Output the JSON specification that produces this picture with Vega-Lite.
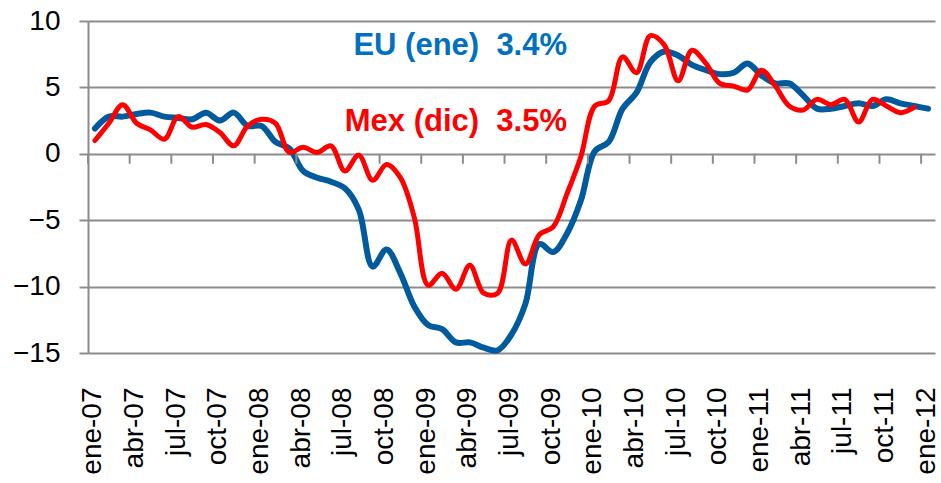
{
  "$schema": "https://vega.github.io/schema/vega-lite/v6.json",
  "width": 847,
  "height": 332,
  "autosize": {"type": "none"},
  "padding": {"left": 88, "top": 21, "right": 6, "bottom": 130},
  "config": {"view": {"stroke": null}, "font": "Liberation Sans", "background": "white"},
  "data": {
    "values": [
      {"mes": "ene-07", "EU": 1.9, "Mex": 1.0},
      {"mes": "feb-07", "EU": 2.8, "Mex": 2.3},
      {"mes": "mar-07", "EU": 2.8, "Mex": 3.7},
      {"mes": "abr-07", "EU": 3.0, "Mex": 2.3},
      {"mes": "may-07", "EU": 3.1, "Mex": 1.8},
      {"mes": "jun-07", "EU": 2.8, "Mex": 1.1},
      {"mes": "jul-07", "EU": 2.7, "Mex": 2.8},
      {"mes": "ago-07", "EU": 2.6, "Mex": 2.0},
      {"mes": "sep-07", "EU": 3.1, "Mex": 2.2},
      {"mes": "oct-07", "EU": 2.5, "Mex": 1.6},
      {"mes": "nov-07", "EU": 3.1, "Mex": 0.6},
      {"mes": "dic-07", "EU": 2.1, "Mex": 2.1},
      {"mes": "ene-08", "EU": 2.1, "Mex": 2.6},
      {"mes": "feb-08", "EU": 0.9, "Mex": 2.3},
      {"mes": "mar-08", "EU": 0.4, "Mex": 0.1},
      {"mes": "abr-08", "EU": -1.3, "Mex": 0.5},
      {"mes": "may-08", "EU": -1.8, "Mex": 0.1},
      {"mes": "jun-08", "EU": -2.1, "Mex": 0.6},
      {"mes": "jul-08", "EU": -2.6, "Mex": -1.3},
      {"mes": "ago-08", "EU": -4.2, "Mex": -0.1},
      {"mes": "sep-08", "EU": -8.5, "Mex": -2.0},
      {"mes": "oct-08", "EU": -7.2, "Mex": -0.8},
      {"mes": "nov-08", "EU": -9.0, "Mex": -1.8},
      {"mes": "dic-08", "EU": -11.5, "Mex": -4.8},
      {"mes": "ene-09", "EU": -12.9, "Mex": -9.9},
      {"mes": "feb-09", "EU": -13.2, "Mex": -9.0},
      {"mes": "mar-09", "EU": -14.2, "Mex": -10.2},
      {"mes": "abr-09", "EU": -14.2, "Mex": -8.4},
      {"mes": "may-09", "EU": -14.6, "Mex": -10.5},
      {"mes": "jun-09", "EU": -14.8, "Mex": -10.5},
      {"mes": "jul-09", "EU": -13.6, "Mex": -6.5},
      {"mes": "ago-09", "EU": -11.3, "Mex": -8.3},
      {"mes": "sep-09", "EU": -6.8, "Mex": -6.1},
      {"mes": "oct-09", "EU": -7.4, "Mex": -5.5},
      {"mes": "nov-09", "EU": -6.0, "Mex": -3.0},
      {"mes": "dic-09", "EU": -3.5, "Mex": -0.2},
      {"mes": "ene-10", "EU": 0.2, "Mex": 3.6},
      {"mes": "feb-10", "EU": 0.9, "Mex": 4.0},
      {"mes": "mar-10", "EU": 3.4, "Mex": 7.3},
      {"mes": "abr-10", "EU": 4.6, "Mex": 6.1},
      {"mes": "may-10", "EU": 6.9, "Mex": 8.9},
      {"mes": "jun-10", "EU": 7.7, "Mex": 8.2},
      {"mes": "jul-10", "EU": 7.4, "Mex": 5.5},
      {"mes": "ago-10", "EU": 6.7, "Mex": 7.8},
      {"mes": "sep-10", "EU": 6.3, "Mex": 6.8},
      {"mes": "oct-10", "EU": 6.0, "Mex": 5.3},
      {"mes": "nov-10", "EU": 6.1, "Mex": 5.1},
      {"mes": "dic-10", "EU": 6.8, "Mex": 4.8},
      {"mes": "ene-11", "EU": 5.9, "Mex": 6.3},
      {"mes": "feb-11", "EU": 5.3, "Mex": 5.1},
      {"mes": "mar-11", "EU": 5.3, "Mex": 3.6},
      {"mes": "abr-11", "EU": 4.4, "Mex": 3.3},
      {"mes": "may-11", "EU": 3.4, "Mex": 4.1},
      {"mes": "jun-11", "EU": 3.4, "Mex": 3.7},
      {"mes": "jul-11", "EU": 3.6, "Mex": 4.1},
      {"mes": "ago-11", "EU": 3.8, "Mex": 2.4},
      {"mes": "sep-11", "EU": 3.6, "Mex": 4.1},
      {"mes": "oct-11", "EU": 4.1, "Mex": 3.6},
      {"mes": "nov-11", "EU": 3.8, "Mex": 3.1},
      {"mes": "dic-11", "EU": 3.6, "Mex": 3.5},
      {"mes": "ene-12", "EU": 3.4, "Mex": null}
    ]
  },
  "resolve": {"axis": {"x": "independent"}, "scale": {"x": "shared", "y": "shared"}},
  "layer": [
    {
      "mark": {"type": "line", "color": "#005a9e", "strokeWidth": 6, "interpolate": "catmull-rom", "strokeCap": "round", "strokeJoin": "round"},
      "encoding": {
        "x": {
          "field": "mes", "type": "ordinal", "sort": null, "bandPosition": 0.5,
          "scale": {"type": "band", "paddingInner": 0, "paddingOuter": 0},
          "axis": {
            "orient": "bottom", "title": null,
            "values": ["ene-07","abr-07","jul-07","oct-07","ene-08","abr-08","jul-08","oct-08","ene-09","abr-09","jul-09","oct-09","ene-10","abr-10","jul-10","oct-10","ene-11","abr-11","jul-11","oct-11","ene-12"],
            "domain": false, "ticks": false, "grid": false,
            "labelAngle": -90, "labelAlign": "right", "labelBaseline": "middle",
            "labelFontSize": 28, "labelColor": "#000000", "labelPadding": 34, "labelOffset": -1.5,
            "labelFont": "Liberation Sans", "labelOverlap": false
          }
        },
        "y": {
          "field": "EU", "type": "quantitative",
          "scale": {"domain": [-15, 10], "nice": false, "zero": false},
          "axis": {
            "title": null, "values": [-15, -10, -5, 0, 5, 10],
            "grid": true, "gridColor": "#8c8c8c", "gridWidth": 2,
            "domain": true, "domainColor": "#8c8c8c", "domainWidth": 2,
            "ticks": true, "tickColor": "#8c8c8c", "tickWidth": 2, "tickSize": 9,
            "labelPadding": 19, "labelFontSize": 28, "labelColor": "#000000",
            "labelFont": "Liberation Sans"
          }
        }
      }
    },
    {
      "transform": [{"filter": "indexof(['ene','abr','jul','oct'], slice(datum.mes, 0, 3)) >= 0"}],
      "mark": {"type": "rule", "color": "#8c8c8c", "strokeWidth": 2},
      "encoding": {
        "x": {"field": "mes", "type": "ordinal", "sort": null, "bandPosition": 0, "axis": null},
        "y": {"datum": 0, "type": "quantitative"},
        "y2": {"datum": -0.75}
      }
    },
    {
      "mark": {"type": "line", "color": "#ff0000", "strokeWidth": 5, "interpolate": "catmull-rom", "strokeCap": "round", "strokeJoin": "round"},
      "encoding": {
        "x": {"field": "mes", "type": "ordinal", "sort": null, "bandPosition": 0.5, "axis": null},
        "y": {"field": "Mex", "type": "quantitative"}
      }
    },
    {
      "transform": [{"filter": "datum.mes == 'nov-09'"}],
      "mark": {"type": "text", "text": "EU (ene)\u00a0 3.4%", "color": "#0070c0", "fontSize": 31, "fontWeight": "bold", "font": "Liberation Sans", "align": "right", "baseline": "middle"},
      "encoding": {
        "x": {"field": "mes", "type": "ordinal", "sort": null, "bandPosition": 0.5, "axis": null},
        "y": {"datum": 8.1, "type": "quantitative"}
      }
    },
    {
      "transform": [{"filter": "datum.mes == 'nov-09'"}],
      "mark": {"type": "text", "text": "Mex (dic)\u00a0 3.5%", "color": "#ff0000", "fontSize": 31, "fontWeight": "bold", "font": "Liberation Sans", "align": "right", "baseline": "middle"},
      "encoding": {
        "x": {"field": "mes", "type": "ordinal", "sort": null, "bandPosition": 0.5, "axis": null},
        "y": {"datum": 2.4, "type": "quantitative"}
      }
    }
  ]
}
